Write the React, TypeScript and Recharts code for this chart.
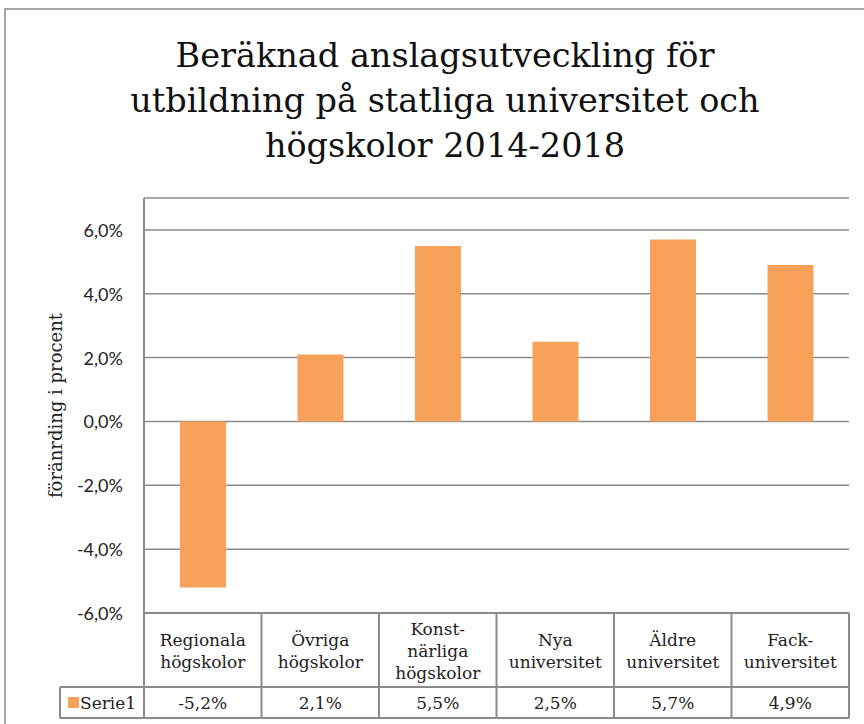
import { BarChart, Bar, XAxis, YAxis, CartesianGrid } from "recharts"

const TITLE_LINES = ["Beräknad anslagsutveckling för", "utbildning på statliga universitet och", "högskolor 2014-2018"]
const CATEGORY_LINES = [
    ["Regionala", "högskolor"],
    ["Övriga", "högskolor"],
    ["Konst-", "närliga", "högskolor"],
    ["Nya", "universitet"],
    ["Äldre", "universitet"],
    ["Fack-", "universitet"],
]
const CATEGORIES = CATEGORY_LINES.map((l) => l.join(" "))
const VALUES = [-5.2, 2.1, 5.5, 2.5, 5.7, 4.9]
const Y_TICKS = [-6, -4, -2, 0, 2, 4, 6]
const SERIES_NAME = "Serie1"
const Y_LABEL = "föränrding i procent"

const BAR_COLOR = "#F7A15B"
const LINE_COLOR = "#8A8A8A"
const SERIF = "'DejaVu Serif', serif"
const SANS = "Lato, 'Open Sans', sans-serif"

// data table row heights
const CAT_ROW = 74
const VAL_ROW = 31
const LEGEND_CELL = 84

const fmt = (v: number) => v.toFixed(1).replace(".", ",") + "%"

const data = CATEGORIES.map((name, i) => ({ name, value: VALUES[i] }))

function YTick(props: any) {
    const { x, y, payload } = props
    return (
        <text x={x} y={y} textAnchor="end" dominantBaseline="central" fontFamily={SANS} fontSize={18} fill="#222">
            {fmt(payload.value)}
        </text>
    )
}

// each x tick draws its own column of the data table under the plot
function TableTick(props: any) {
    const { x, y, payload, index } = props
    const half = payload.offset ?? 58.75
    const lines = CATEGORY_LINES[index] || []
    const left = x - half
    const right = x + half
    const firstBase = y + CAT_ROW / 2 + 7 - ((lines.length - 1) * 22) / 2
    return (
        <g>
            <line x1={left} x2={right} y1={y} y2={y} stroke={LINE_COLOR} strokeWidth={2} />
            <line x1={left} x2={right} y1={y + CAT_ROW} y2={y + CAT_ROW} stroke={LINE_COLOR} strokeWidth={2} />
            <line x1={left} x2={right} y1={y + CAT_ROW + VAL_ROW} y2={y + CAT_ROW + VAL_ROW} stroke={LINE_COLOR} strokeWidth={2} />
            <line x1={right} x2={right} y1={y} y2={y + CAT_ROW + VAL_ROW} stroke={LINE_COLOR} strokeWidth={2} />
            {index === 0 && (
                <g>
                    <line x1={left} x2={left} y1={y} y2={y + CAT_ROW + VAL_ROW} stroke={LINE_COLOR} strokeWidth={2} />
                    <line x1={left - LEGEND_CELL} x2={left} y1={y + CAT_ROW} y2={y + CAT_ROW} stroke={LINE_COLOR} strokeWidth={2} />
                    <line x1={left - LEGEND_CELL} x2={left} y1={y + CAT_ROW + VAL_ROW} y2={y + CAT_ROW + VAL_ROW} stroke={LINE_COLOR} strokeWidth={2} />
                    <line x1={left - LEGEND_CELL} x2={left - LEGEND_CELL} y1={y + CAT_ROW} y2={y + CAT_ROW + VAL_ROW} stroke={LINE_COLOR} strokeWidth={2} />
                    <rect x={left - LEGEND_CELL + 8} y={y + CAT_ROW + 10} width={11} height={11} fill={BAR_COLOR} />
                    <text x={left - LEGEND_CELL + 20} y={y + CAT_ROW + 22} fontFamily={SERIF} fontSize={17} fill="#222">
                        {SERIES_NAME}
                    </text>
                </g>
            )}
            <text textAnchor="middle" fontFamily={SERIF} fontSize={17} fill="#222">
                {lines.map((ln, i) => (
                    <tspan key={i} x={x} y={firstBase + i * 22}>
                        {ln}
                    </tspan>
                ))}
            </text>
            <text x={x} y={y + CAT_ROW + 22} textAnchor="middle" fontFamily={SERIF} fontSize={17} fill="#222">
                {fmt(VALUES[index])}
            </text>
        </g>
    )
}

function YLabel(props: any) {
    const vb = props.viewBox || { x: 0, y: 198, width: 144, height: 415 }
    const cx = 55
    const cy = vb.y + vb.height / 2
    return (
        <text
            x={cx}
            y={cy}
            transform={`rotate(-90, ${cx}, ${cy})`}
            textAnchor="middle"
            dominantBaseline="central"
            fontFamily={SERIF}
            fontSize={18}
            fill="#222"
        >
            {Y_LABEL}
        </text>
    )
}

export default function App() {
    return (
        <div style={{ position: "absolute", left: 0, top: 0, width: 864, height: 724, background: "#fff" }}>
            <BarChart width={864} height={724} data={data} margin={{ top: 198, right: 15, left: 0, bottom: 0 }}>
                <CartesianGrid vertical={false} stroke={LINE_COLOR} strokeWidth={1.5} />
                <XAxis
                    dataKey="name"
                    height={111}
                    axisLine={false}
                    tickLine={false}
                    tickSize={0}
                    tickMargin={0}
                    interval={0}
                    tick={<TableTick />}
                />
                <YAxis
                    type="number"
                    width={144}
                    domain={[-6, 7]}
                    ticks={Y_TICKS}
                    interval={0}
                    axisLine={{ stroke: LINE_COLOR, strokeWidth: 2 }}
                    tickLine={false}
                    tickSize={0}
                    tickMargin={21}
                    tick={<YTick />}
                    label={(p: any) => <YLabel {...p} />}
                />
                <Bar dataKey="value" fill={BAR_COLOR} barSize={46} isAnimationActive={false} />
            </BarChart>
            <svg width={864} height={724} style={{ position: "absolute", left: 0, top: 0, pointerEvents: "none" }}>
                <rect x={5} y={9} width={900} height={800} fill="none" stroke={LINE_COLOR} strokeWidth={1.5} />
                {TITLE_LINES.map((t, i) => (
                    <text key={i} x={445} y={67 + i * 45} textAnchor="middle" fontFamily={SERIF} fontSize={33.5} fill="#111">
                        {t}
                    </text>
                ))}
            </svg>
        </div>
    )
}
